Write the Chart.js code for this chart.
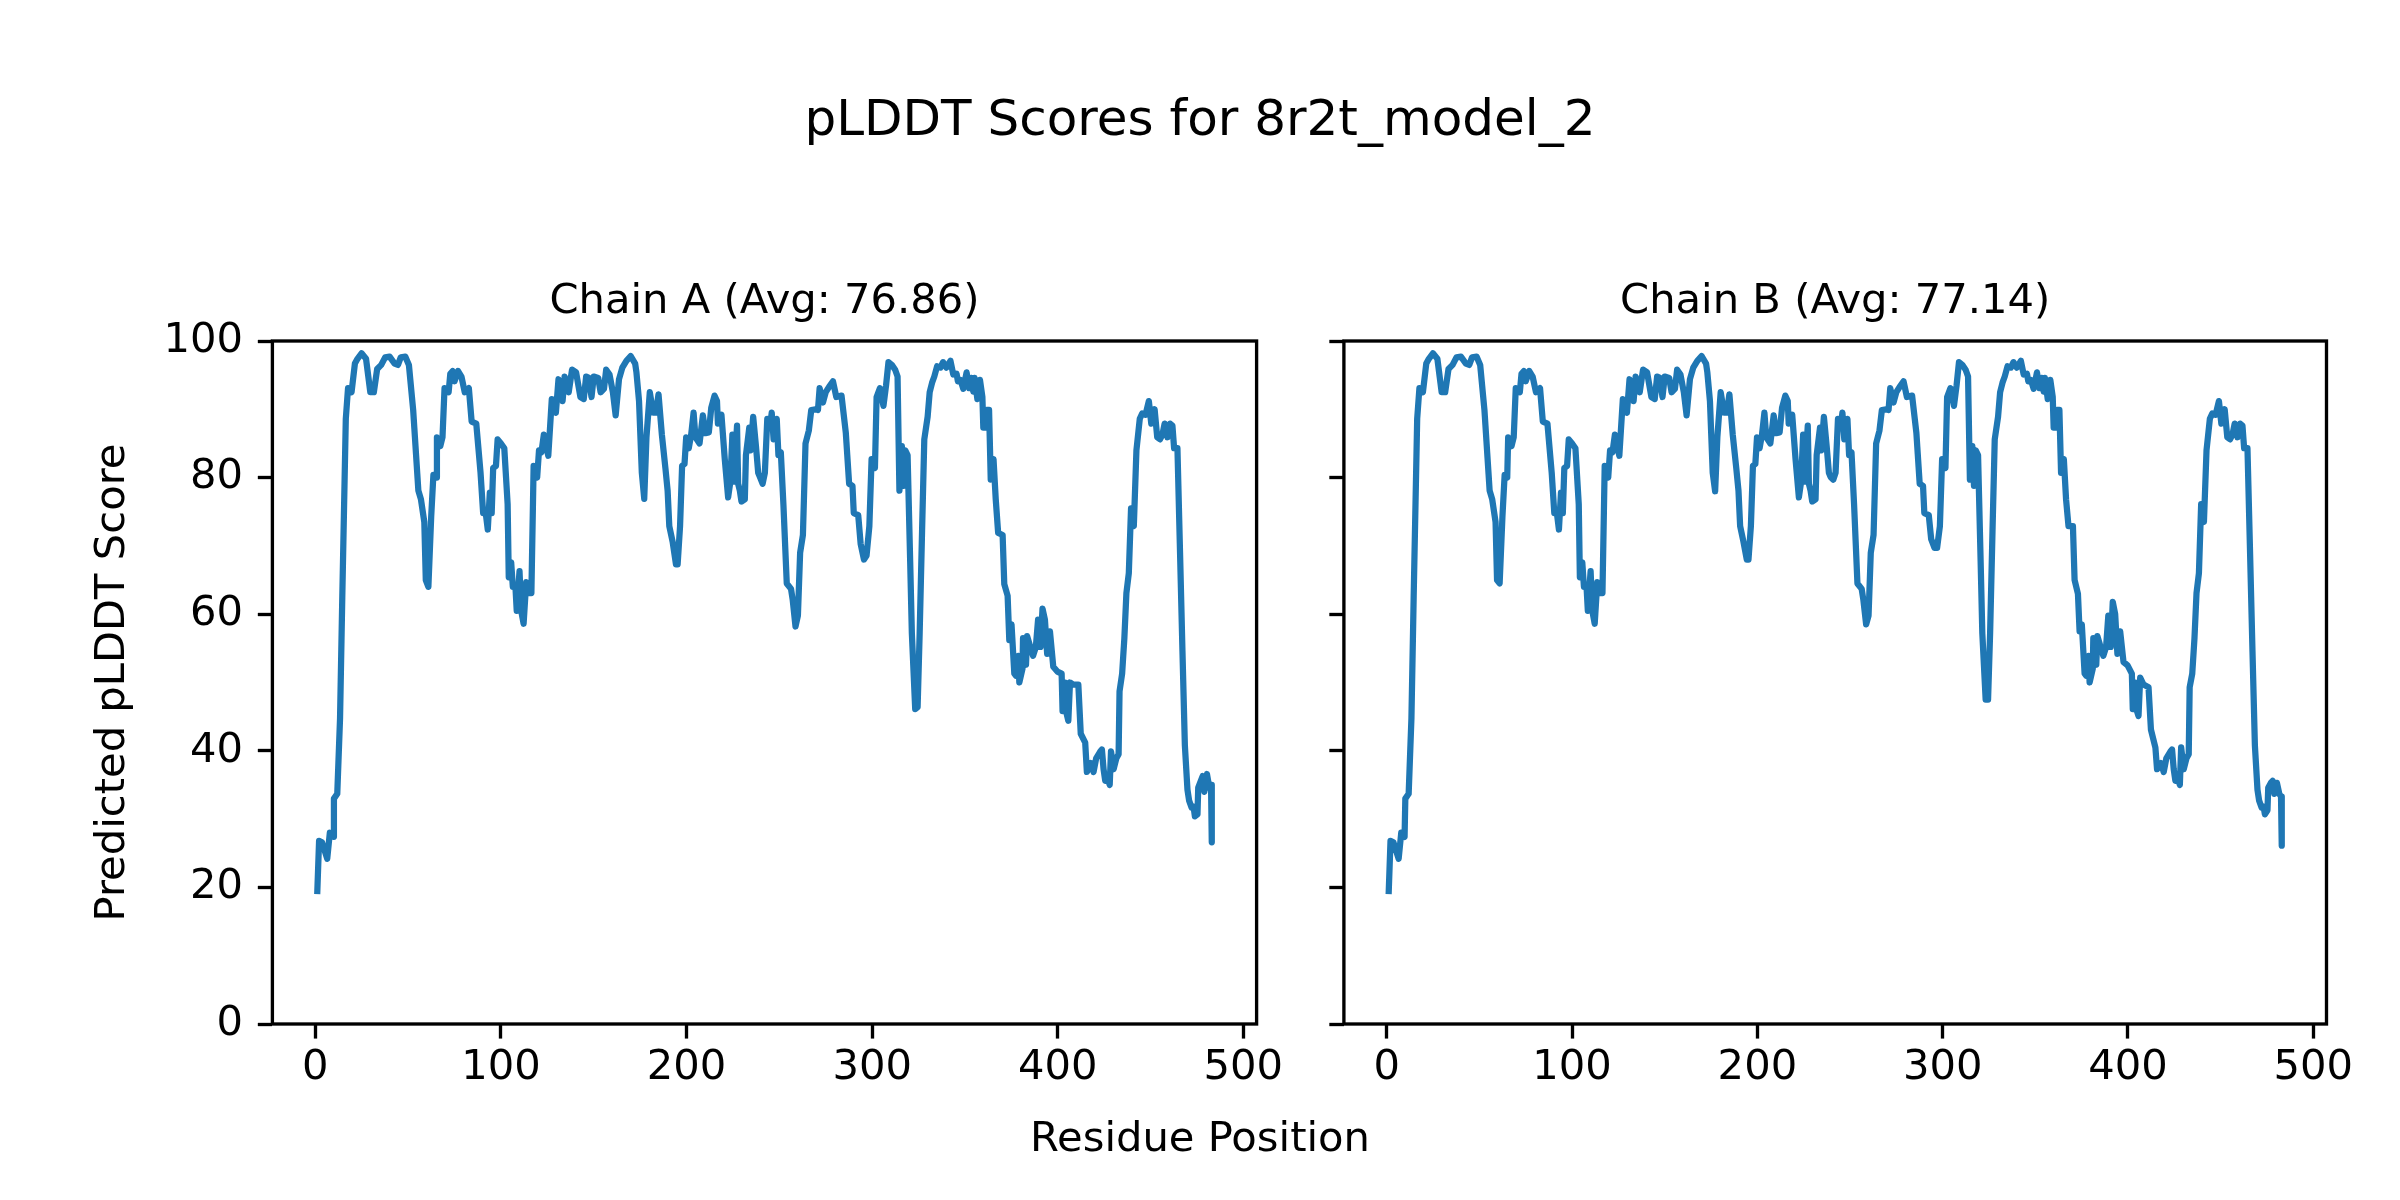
<!DOCTYPE html>
<html>
<head>
<meta charset="utf-8">
<script src="https://cdn.jsdelivr.net/npm/chart.js@4/dist/chart.umd.min.js"></script>
<style>
  html, body { margin:0; padding:0; background:#fff; }
  #page { position:relative; width:2400px; height:1200px; font-family:'DejaVu Sans', sans-serif; color:#000; }
  canvas { position:absolute; top:0; }
  #cA { left:0; }
  #cB { left:1300px; }
  .txt { position:absolute; left:0; width:2400px; text-align:center; white-space:nowrap; }
  #suptitle { top:93px; font-size:50px; line-height:50px; }
  #xlabel { top:1112px; font-size:41.67px; line-height:50px; }
</style>
</head>
<body>
<div id="page">
  <canvas id="cA" width="1300" height="1200"></canvas>
  <canvas id="cB" width="1100" height="1200"></canvas>
  <div class="txt" id="suptitle">pLDDT Scores for 8r2t_model_2</div>
  <div class="txt" id="xlabel">Residue Position</div>
</div>
<script>
// ── Data ──────────────────────────────────────────────────
const RESIDUES = [
  1,2,3.6,6.4,7.8,9.6,10,11.8,13.3,14.5,
  16.4,17.6,19.5,21.3,22.7,24.9,27.3,29.6,31.5,33.3,
  35.5,37.6,40,42.7,44.5,46,48.5,50.4,52.7,55.5,
  56.9,58.7,59.5,60.9,62.4,63.6,65,65.5,67.3,68.5,
  69.6,71.8,72.7,74,75,76.9,78.7,80.5,82.7,84.2,
  86.7,89,90.4,91.8,92.9,94,95,95.8,97.3,98.2,
  100,101.8,103.6,104.2,105.5,106.4,107.8,108.5,110,110.9,
  112.2,113.6,115.1,116.4,117.6,119.5,120.5,121.8,123.1,125.5,
  127.4,129.6,131,133.2,134.3,136.5,138.3,140.5,142.8,144.6,
  145.9,147.3,148.8,150,152.4,153.7,155.5,156.7,158.5,160.3,
  161.8,163.6,165.4,167.6,169.9,172.3,173,174.4,175.9,177.2,
  178.4,180.2,182,183.5,184.9,186.7,188.6,189.8,190.7,192.5,
  194.3,195.2,196.5,197.6,198.9,199.8,201.2,202.5,203.8,204.8,
  207,208.8,210.2,212,213.3,215.1,216.4,216.9,218.8,220.6,
  222.4,223.6,224.7,225.4,227.2,227.8,228.7,229.6,231.4,232,
  233.8,234.5,235.9,237.4,238.6,239.5,241,242.2,243.5,245,
  245.9,246.9,248.6,249.5,250.8,252.2,254,256.3,257.2,258.7,
  260,261.2,262.7,264.1,265.9,267.2,269.5,270.8,271.7,273.5,
  275,276.8,278.9,280.7,283.5,285.8,287.6,289.4,290.1,292.5,
  293.8,295.6,297,298.5,299.7,301.5,302.4,304.2,306.1,307.5,
  308.8,310.6,312.4,313.7,314.7,316,316.9,317.8,319.1,320.5,
  321.4,323.2,324.5,325.6,326.9,328.1,329.9,331,332.3,333.5,
  335,336.8,338.2,340,342.2,343.7,345.5,346.2,347.6,349.1,
  350.9,352.2,353.4,354.5,355.2,356.7,358.1,359.4,359.9,361.2,
  361.8,363,363.9,365.4,366.6,367.9,370.3,371.2,373,373.9,
  375.1,376.6,377.5,378.8,379.3,381,381.3,382.9,383.5,384.9,
  386.7,388.2,389.4,390.7,391.8,393.1,394.3,395.8,397.6,399.8,
  402.1,402.6,403.9,404.5,405.7,406.6,408.4,411.1,412.4,414.8,
  415.7,417.8,419.3,420.7,422.9,423.8,424.7,425.6,426.9,428,
  428.7,430.1,431.6,432.8,433.3,434.7,435.9,437,438.3,439.5,
  441,442.4,444.2,445.5,447.3,449.1,450.4,452.2,453.6,455.1,
  456.4,457.6,459.1,460.5,461.8,462.7,464.5,465.9,467.2,468.5,
  469.9,470.8,472.1,473.2,473.9,475.3,475.7,477.1,478.1,479,
  480.4,481.7,482.6,483
];

const SCORES_A = [
  19,26.8,26.6,24.2,28,27.4,33,33.7,44.8,62.4,
  88.6,93.1,92.5,96.7,97.4,98.2,97.4,92.5,92.5,95.9,
  96.5,97.6,97.7,96.7,96.5,97.6,97.7,96.5,89.9,78.1,
  76.8,73.5,65,64,74.2,80.4,80,85.9,84.6,85.9,
  93.1,92.5,95.2,95.6,94.1,95.6,94.8,92.5,93.1,88.2,
  87.9,80.7,74.8,74.8,72.4,77.8,74.8,81.4,81.7,85.6,
  85,84.3,76.1,65.4,67.6,64,64,60.5,66.3,60.5,
  58.6,64.7,63.1,63.1,81.7,80,84,83.7,86.3,83.2,
  91.5,89.5,94.4,91.2,94.8,92.5,95.8,95.4,91.8,91.5,
  94.8,94.6,91.8,94.8,94.6,92.5,93,95.8,95.1,92.5,
  89.1,94.4,96.1,97.1,97.8,96.7,95.4,91.2,80.7,76.9,
  85.9,92.5,89.5,89.5,92.2,86.3,81.4,78.1,72.9,70.6,
  67.3,67.3,72.9,81.7,82,85.9,84.3,86.3,89.5,85.9,
  85,89.1,86.5,86.6,90.2,92,91.2,87.9,89.2,82.7,
  77.1,79.4,86.3,79.4,87.6,79.1,78.1,76.5,76.8,83.3,
  87.3,84,88.9,84.6,80.7,80.1,79.1,80.7,88.6,87.6,
  89.5,85.6,88.6,83.3,83.7,76,64.5,63.7,62.1,58.2,
  59.8,69,71.6,85,86.9,89.9,90,89.9,93.1,91,
  92.5,93.3,94.1,91.8,92,86.6,79.1,78.8,74.8,74.5,
  70.3,68,68.6,72.9,82.7,81.4,91.8,93.1,90.5,93.5,
  96.9,96.5,95.8,94.8,78.1,84.6,78.8,84,83.3,67.6,
  57.2,46.1,46.4,57.2,72.2,85.6,88.9,92.5,93.9,94.8,
  96.3,96.1,96.9,96.1,97.1,95.1,95.2,94.1,94.3,93,
  95.4,93.1,94.6,92.6,94.6,91.5,94.3,91.8,87.3,87.3,
  89.9,89.9,79.7,82.7,76.8,71.9,71.6,64.4,62.7,56.2,
  58.5,51.3,51,53.9,50,52,56.5,52.6,56.8,55.5,
  53.9,55.2,59.2,55.2,60.8,59.2,54.2,57.5,52.3,51.6,
  51.3,45.8,50,45.8,44.4,50,49.7,49.7,42.5,41.2,
  36.9,38.2,36.9,38.9,39.9,40.2,37.3,35.6,36,35,
  39.9,37.3,38.9,39.5,48.7,51.3,56.5,63.1,66,75.5,
  72.9,84,88.6,89.4,89.2,91.2,87.9,90,85.9,85.6,
  86.3,87.9,85.9,87.9,87.6,84.3,84.3,69,54.6,40.8,
  34.3,32.7,31.7,31.8,30.4,30.7,34.6,35.6,36.3,34,
  36.6,34.6,35,26.6
];

const SCORES_B = [
  19,26.8,26.6,24.2,28,27.4,33,33.7,44.8,62.4,
  88.6,93.1,92.5,96.7,97.4,98.2,97.4,92.5,92.5,95.9,
  96.5,97.6,97.7,96.7,96.5,97.6,97.7,96.5,89.9,78.1,
  76.8,73.5,65,64.5,74.2,80.4,80,85.9,84.6,85.9,
  93.1,92.5,95.2,95.6,94.1,95.6,94.8,92.5,93.1,88.2,
  87.9,80.7,74.8,74.8,72.4,77.8,74.8,81.4,81.7,85.6,
  85,84.3,76.1,65.4,67.6,64,64,60.5,66.3,60.5,
  58.6,64.7,63.1,63.1,81.7,80,84,83.7,86.3,83.2,
  91.5,89.5,94.4,91.2,94.8,92.5,95.8,95.4,91.8,91.5,
  94.8,94.6,91.8,94.8,94.6,92.5,93,95.8,95.1,92.5,
  89.1,94.4,96.1,97.1,97.8,96.7,95.4,91.2,80.7,78,
  85.9,92.5,89.5,89.5,92.2,86.3,81.4,78.1,72.9,70.6,
  68,68,72.9,81.7,82,85.9,84.3,86.3,89.5,85.9,
  85,89.1,86.5,86.6,90.2,92,91.2,87.9,89.2,82.7,
  77.1,79.4,86.3,79.4,87.6,79.1,78.1,76.5,76.8,83.3,
  87.3,84,88.9,84.6,80.7,80.1,79.7,80.7,88.6,87.6,
  89.5,85.6,88.6,83.3,83.7,76,64.5,63.7,62.1,58.5,
  59.8,69,71.6,85,86.9,89.9,90,89.9,93.1,91,
  92.5,93.3,94.1,91.8,92,86.6,79.1,78.8,74.8,74.5,
  71,69.7,69.7,72.9,82.7,81.4,91.8,93.1,90.5,93.5,
  96.9,96.5,95.8,94.8,79.7,84.6,78.8,84,83.3,67.6,
  57.2,47.5,47.5,57.2,72.2,85.6,88.9,92.5,93.9,94.8,
  96.3,96.1,96.9,96.1,97.1,95.1,95.2,94.1,94.3,93,
  95.4,93.1,94.6,92.6,94.6,91.5,94.3,91.8,87.3,87.3,
  89.9,89.9,80.7,82.7,76.8,72.9,72.9,65,63,57.5,
  58.5,51.3,51,53.9,50,52,56.5,52.6,56.8,55.5,
  53.9,55.2,59.8,55.2,61.8,60,54.2,57.5,53,52.5,
  51.3,46.1,50,46.1,45.1,50.7,49.7,49.3,43.1,40.5,
  37.3,38.2,36.9,38.9,39.9,40.2,37.3,35.6,36,35,
  40.5,37.3,38.9,39.5,49.3,51.3,56.5,63.1,66,76.1,
  73.5,84,88.6,89.4,89.2,91.2,87.9,90,85.9,85.6,
  86.3,87.9,85.9,87.9,87.6,84.3,84.3,69,54.6,40.8,
  34.3,32.7,31.7,31.8,30.7,31.3,34.6,35.3,35.6,33.7,
  35.3,33.7,33.3,26.1
];

const X_TICKS = [0, 100, 200, 300, 400, 500];
const Y_TICKS = [0, 20, 40, 60, 80, 100];
const CHAIN_TITLES = ['Chain A (Avg: 76.86)', 'Chain B (Avg: 77.14)'];
const Y_LABEL = 'Predicted pLDDT Score';

// ── Style ─────────────────────────────────────────────────
const PT = 300 / 72;           // matplotlib points -> px at 300 dpi
const FONT = 10 * PT;
const LINE_C = '#1f77b4';

Chart.defaults.font.family = "'DejaVu Sans', sans-serif";
Chart.defaults.font.size = FONT;
Chart.defaults.color = '#000';

// box around the plot area, like matplotlib spines
const frame = {
  id: 'frame',
  afterDatasetsDraw(chart) {
    const {ctx, chartArea: a} = chart;
    ctx.save();
    ctx.strokeStyle = '#000';
    ctx.lineWidth = 0.8 * PT;
    ctx.strokeRect(a.left, a.top, a.right - a.left, a.bottom - a.top);
    ctx.restore();
  }
};

function makeChart(id, title, scores, o) {
  const pts = RESIDUES.map((r, i) => ({x: r, y: scores[i]}));
  const tickGrid = {
    drawOnChartArea: false, drawTicks: true,
    tickLength: 3.5 * PT, tickWidth: 0.8 * PT, tickColor: '#000'
  };
  return new Chart(document.getElementById(id), {
    type: 'line',
    data: { datasets: [{
      data: pts, borderColor: LINE_C, borderWidth: 1.5 * PT,
      pointRadius: 0, tension: 0, fill: false,
      borderJoinStyle: 'round', borderCapStyle: 'butt'
    }]},
    options: {
      responsive: false, animation: false, devicePixelRatio: 1,
      layout: { padding: { left: 0, top: 0, right: o.padRight, bottom: 0 } },
      plugins: {
        legend: { display: false },
        tooltip: { enabled: false },
        title: {
          display: true, text: title, color: '#000', fullSize: false,
          font: { size: FONT, weight: 'normal' },
          padding: { top: 277, bottom: 14 }
        }
      },
      scales: {
        x: {
          type: 'linear', min: -23.15, max: 507.15,
          afterBuildTicks: s => { s.ticks = X_TICKS.map(v => ({value: v})); },
          afterFit: s => { s.height = 1200 - 1024; s.paddingLeft = 0; s.paddingRight = 0; },
          grid: tickGrid, border: { display: false },
          ticks: { padding: 5, color: '#000', maxRotation: 0, autoSkip: false }
        },
        y: {
          min: 0, max: 100,
          afterBuildTicks: s => { s.ticks = Y_TICKS.map(v => ({value: v})); },
          afterFit: s => { s.width = o.yWidth; s.paddingTop = 0; s.paddingBottom = 0; },
          grid: tickGrid, border: { display: false },
          ticks: { padding: 14.8, color: '#000', autoSkip: false,
                   callback: o.showY ? (v => v) : (() => '') },
          title: { display: o.showY, text: Y_LABEL, color: '#000',
                   font: { size: FONT }, padding: { top: 88, bottom: 0 } }
        }
      }
    },
    plugins: [frame]
  });
}

makeChart('cA', CHAIN_TITLES[0], SCORES_A, { padRight: 1300 - 1256.6, yWidth: 272.4, showY: true });
makeChart('cB', CHAIN_TITLES[1], SCORES_B, { padRight: 1100 - 1026.5, yWidth: 43.9, showY: false });
</script>
</body>
</html>
